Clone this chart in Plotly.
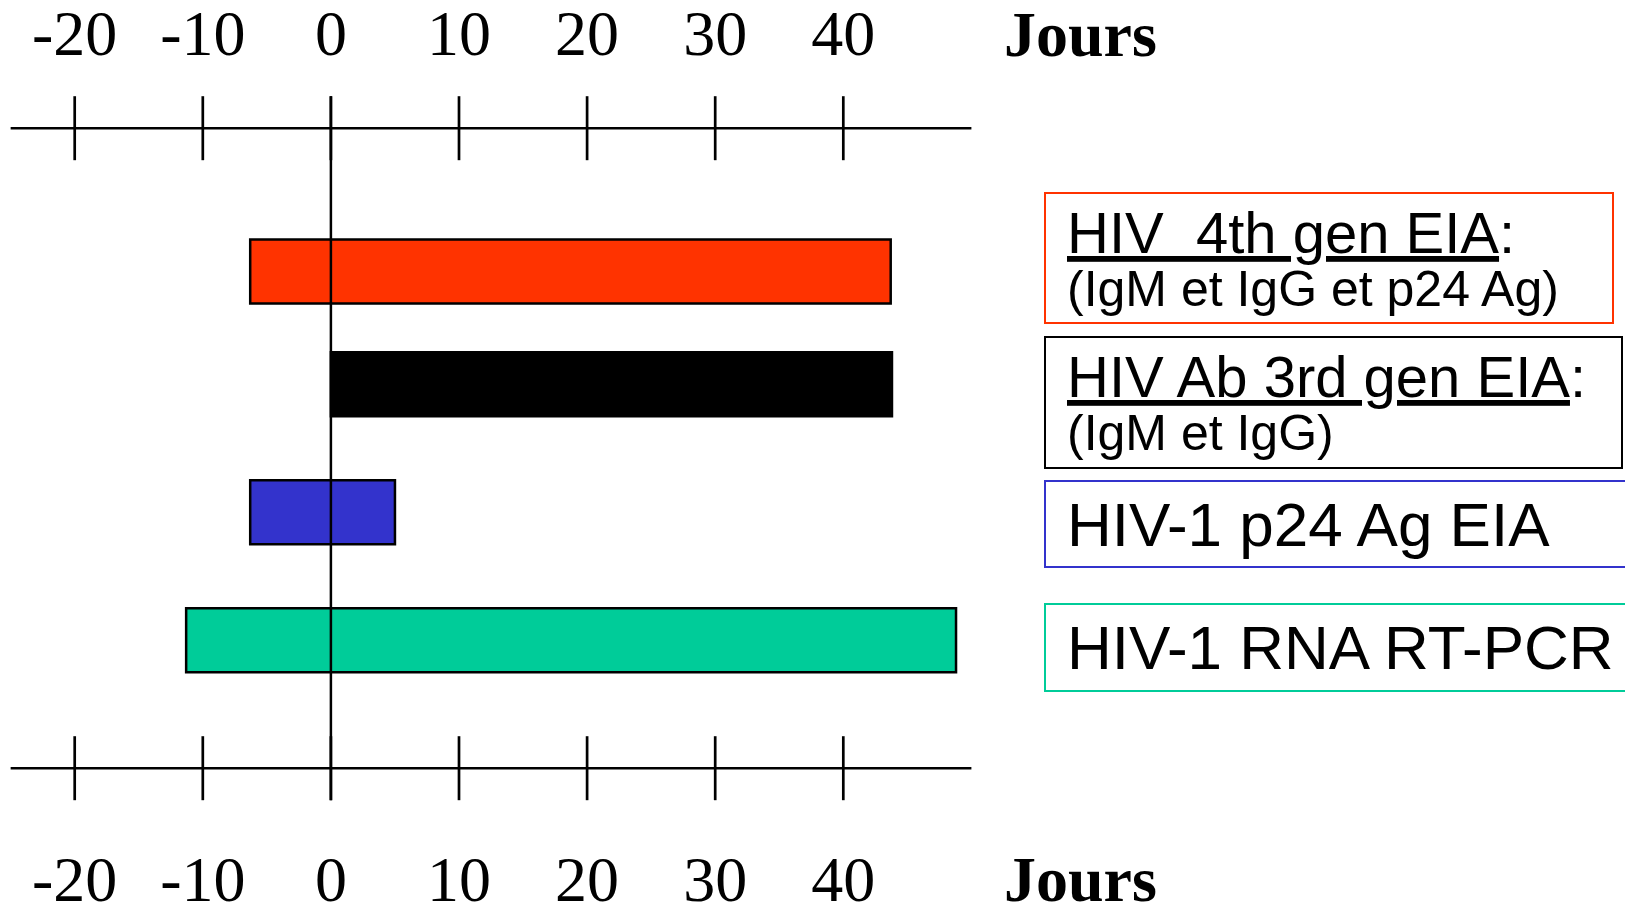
import plotly.graph_objects as go

# ---------------- data ----------------
CATEGORIES = ["HIV 4th gen EIA", "HIV Ab 3rd gen EIA", "HIV-1 p24 Ag EIA", "HIV-1 RNA RT-PCR"]
START_DAY = [-6.3, 0.0, -6.3, -11.3]
END_DAY = [43.7, 43.8, 5.0, 48.8]
TICK_VALUES = [-20, -10, 0, 10, 20, 30, 40]
TICK_LABELS = ["-20", "-10", "0", "10", "20", "30", "40"]
AXIS_MIN = -25
AXIS_MAX = 50
ONSET_DAY = 0
AXIS_TITLE = "Jours"
LEGEND_TITLES = ["HIV\u00a0 4th gen EIA", "HIV Ab 3rd gen EIA", "HIV-1 p24 Ag EIA", "HIV-1 RNA RT-PCR"]
LEGEND_SUBTITLES = ["(IgM et IgG et p24 Ag)", "(IgM et IgG)", "", ""]

# ---------------- style ----------------
BAR_COLORS = ["#FF3300", "#000000", "#3333CC", "#00CC99"]
BAR_OFFSETS = [-0.13, -0.25, -0.25, -0.25]
BAR_WIDTH = 0.5
W, H = 1633, 908
ZERO_PX = 322.9
PX_PER_DAY = 12.81
ROW0_PX = 248.2
ROW_PX = 128.0
SERIF = "Liberation Serif, Times New Roman, serif"
SANS = "Liberation Sans, Arial, sans-serif"
# legend boxes in pixel coordinates: (left, top, right, bottom)
BOXES = [(1037, 185, 1605, 315), (1037, 329, 1614, 460),
         (1037, 473, 1626, 559), (1037, 596, 1626, 683)]
TEXT_LEFT_PX = 1057

n = len(CATEGORIES)
rows = list(range(n))
top_axis_row = -1
bottom_axis_row = n
tick_half = 0.25
top_label_row = top_axis_row - 0.696
bottom_label_row = bottom_axis_row + 0.91
title_lift = 5 / ROW_PX


def px_x(p):
    return p / W


def px_y(p):
    return 1 - p / H


fig = go.Figure()

# axis lines (top and bottom)
for r in (top_axis_row, bottom_axis_row):
    fig.add_trace(go.Scatter(x=[AXIS_MIN, AXIS_MAX], y=[r, r], mode="lines",
                             line=dict(color="black", width=2.5), hoverinfo="skip"))
    tx, ty = [], []
    for t in TICK_VALUES:
        tx += [t, t, None]
        ty += [r - tick_half, r + tick_half, None]
    fig.add_trace(go.Scatter(x=tx, y=ty, mode="lines",
                             line=dict(color="black", width=2.7), hoverinfo="skip"))

# tick labels
for r in (top_label_row, bottom_label_row):
    fig.add_trace(go.Scatter(x=TICK_VALUES, y=[r] * len(TICK_VALUES), mode="text",
                             text=TICK_LABELS, cliponaxis=False,
                             textfont=dict(family=SERIF, size=64, color="black"),
                             hoverinfo="skip"))


def add_bar(i):
    fig.add_trace(go.Bar(
        y=[rows[i]], x=[END_DAY[i] - START_DAY[i]], base=[START_DAY[i]],
        orientation="h", width=BAR_WIDTH, offset=BAR_OFFSETS[i],
        marker=dict(color=BAR_COLORS[i], line=dict(color="black", width=2.5)),
        name=CATEGORIES[i], hovertext=[CATEGORIES[i]],
    ))


# draw order: non-red bars, then the day-0 line, then the red bar on top
for i in range(1, n):
    add_bar(i)
fig.add_trace(go.Scatter(x=[ONSET_DAY, ONSET_DAY],
                         y=[top_axis_row - tick_half, bottom_axis_row + tick_half],
                         mode="lines", line=dict(color="black", width=2.5), hoverinfo="skip"))
add_bar(0)

shapes = []
annotations = []
for i in range(n):
    l, t, r, b = BOXES[i]
    shapes.append(dict(type="rect", xref="paper", yref="paper",
                       x0=px_x(l), x1=px_x(r), y0=px_y(b), y1=px_y(t),
                       line=dict(color=BAR_COLORS[i], width=2), fillcolor="rgba(0,0,0,0)"))
    if LEGEND_SUBTITLES[i]:
        txt = ('<span style="font-size:58px"><u>' + LEGEND_TITLES[i] + '</u>:</span><br>'
               '<span style="font-size:50px">' + LEGEND_SUBTITLES[i] + '</span>')
        size = 41
    else:
        txt = LEGEND_TITLES[i]
        size = 62
    annotations.append(dict(text=txt, xref="paper", yref="paper",
                            x=px_x(TEXT_LEFT_PX), y=px_y((t + b) / 2),
                            xanchor="left", yanchor="middle", align="left",
                            showarrow=False,
                            font=dict(family=SANS, size=size, color="black")))

for r in (top_label_row, bottom_label_row):
    annotations.append(dict(text="<b>" + AXIS_TITLE + "</b>", xref="paper", yref="y",
                            x=px_x(1072.5), y=r - title_lift, xanchor="center", yanchor="middle",
                            showarrow=False,
                            font=dict(family=SERIF, size=64, color="black")))

fig.update_layout(
    width=W, height=H,
    margin=dict(l=0, r=0, t=0, b=0),
    paper_bgcolor="white", plot_bgcolor="white",
    showlegend=False,
    xaxis=dict(range=[-ZERO_PX / PX_PER_DAY, (W - ZERO_PX) / PX_PER_DAY],
               visible=False, fixedrange=True),
    yaxis=dict(range=[(H - ROW0_PX) / ROW_PX, -ROW0_PX / ROW_PX],
               visible=False, fixedrange=True),
    shapes=shapes,
    annotations=annotations,
)

fig.write_html("out.html", config={"displayModeBar": False})
